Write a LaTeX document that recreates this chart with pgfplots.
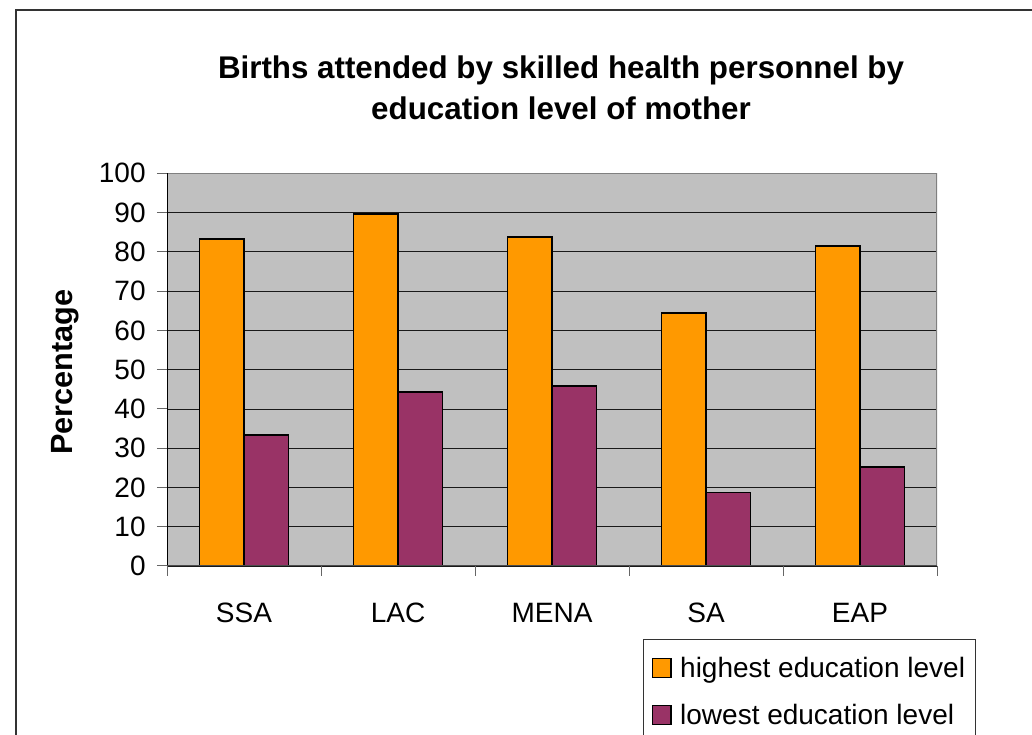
\documentclass[border=0pt]{standalone}
\usepackage{pgfplots}
\pgfplotsset{compat=1.18}
\usepackage{fontspec}
\setmainfont{Liberation Sans}
\definecolor{hi}{HTML}{FF9900}
\definecolor{lo}{HTML}{993366}
\definecolor{bg}{HTML}{C0C0C0}
\definecolor{bd}{HTML}{808080}
\begin{document}
\begin{tikzpicture}
\useasboundingbox (0,0) rectangle (774pt,551.25pt);
\draw[line width=1.5pt, black!80] (12pt,-5pt) -- (12pt,543.75pt) -- (780pt,543.75pt);
\node[font=\bfseries\fontsize{23.5}{30.75}\selectfont, align=center] at (420.75pt,485.6pt)
  {Births attended by skilled health personnel by\\ education level of mother};
\node[rotate=90, font=\bfseries\fontsize{23}{27}\selectfont] at (48.75pt,272.25pt) {Percentage};
\begin{axis}[
  at={(125.25pt,126.75pt)}, anchor=south west,
  scale only axis, width=577.5pt, height=294.5pt,
  xmin=0.5, xmax=5.5, ymin=0, ymax=100,
  ybar=0pt, bar width=33.4pt,
  xtick={1,2,3,4,5}, xticklabels={SSA,LAC,MENA,SA,EAP},
  major x tick style={draw=none},
  minor xtick={0.5,1.5,2.5,3.5,4.5,5.5},
  ytick={0,10,...,100},
  tick align=outside, tick pos=left,
  major tick length=7.5pt, minor tick length=7.5pt,
  every tick/.style={black!60, line width=0.75pt},
  ymajorgrids, major grid style={black!90, line width=0.6pt},
  axis background/.style={fill=bg},
  axis line style={draw=none},
  ticklabel style={font=\fontsize{21}{25}\selectfont},
  xticklabel style={text height=15pt, text depth=0pt, yshift=-16pt},
  yticklabel style={xshift=-5pt},
  /pgf/number format/assume math mode=true,
  legend style={at={(0.6182,-0.1859)}, anchor=north west, draw=black!80, line width=0.75pt,
    fill=white, font=\fontsize{21}{25}\selectfont, row sep=14.5pt, column sep=4.5pt,
    inner xsep=6pt, inner ysep=11pt},
  legend cell align=left,
  legend image code/.code={\draw[#1, draw=black, line width=1pt] (0pt,-7pt) rectangle (14pt,7pt);},
]
\addplot[fill=hi, draw=black, line width=1.3pt] coordinates {(1,83.2) (2,89.6) (3,83.7) (4,64.5) (5,81.5)};
\addplot[fill=lo, draw=black, line width=1.3pt] coordinates {(1,33.4) (2,44.3) (3,45.9) (4,18.7) (5,25.2)};
\legend{highest education level, lowest education level}
\draw[bd, line width=1.5pt] (rel axis cs:0,0) rectangle (rel axis cs:1,1);
\draw[black, line width=0.75pt] (rel axis cs:0,0) -- (rel axis cs:0,1);
\draw[black!70, line width=0.9pt] (rel axis cs:0,0) -- (rel axis cs:1,0);
\end{axis}
\end{tikzpicture}
\end{document}
